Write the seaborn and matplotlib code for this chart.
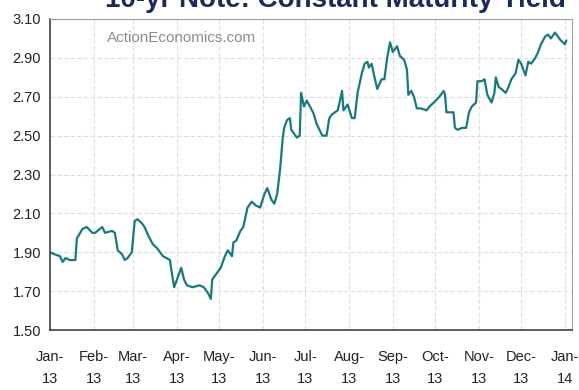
import matplotlib
matplotlib.use("Agg")
import matplotlib.pyplot as plt
import seaborn as sns
import pandas as pd

# 10-year Treasury constant maturity yield, 2013 (percent)
dates = [
    "2013-01-01", "2013-01-04", "2013-01-08", "2013-01-10", "2013-01-12", "2013-01-15",
    "2013-01-19", "2013-01-20", "2013-01-24", "2013-01-27", "2013-01-31", "2013-02-02",
    "2013-02-07", "2013-02-09", "2013-02-14", "2013-02-16", "2013-02-18", "2013-02-21",
    "2013-02-23", "2013-02-25", "2013-02-28", "2013-03-02", "2013-03-04", "2013-03-07",
    "2013-03-09", "2013-03-12", "2013-03-15", "2013-03-18", "2013-03-22", "2013-03-27",
    "2013-03-28", "2013-03-30", "2013-04-01", "2013-04-04", "2013-04-06", "2013-04-08",
    "2013-04-12", "2013-04-17", "2013-04-20", "2013-04-23", "2013-04-25", "2013-04-26",
    "2013-04-30", "2013-05-02", "2013-05-05", "2013-05-07", "2013-05-10", "2013-05-11",
    "2013-05-13", "2013-05-16", "2013-05-18", "2013-05-21", "2013-05-24", "2013-05-27",
    "2013-05-30", "2013-06-02", "2013-06-04", "2013-06-07", "2013-06-09", "2013-06-11",
    "2013-06-13", "2013-06-15", "2013-06-16", "2013-06-18", "2013-06-20", "2013-06-21",
    "2013-06-23", "2013-06-25", "2013-06-27", "2013-06-28", "2013-06-30", "2013-07-02",
    "2013-07-05", "2013-07-07", "2013-07-09", "2013-07-13", "2013-07-16", "2013-07-18",
    "2013-07-20", "2013-07-24", "2013-07-27", "2013-07-28", "2013-07-31", "2013-08-03",
    "2013-08-05", "2013-08-07", "2013-08-10", "2013-08-12", "2013-08-14", "2013-08-15",
    "2013-08-17", "2013-08-19", "2013-08-21", "2013-08-24", "2013-08-26", "2013-08-28",
    "2013-08-30", "2013-09-01", "2013-09-04", "2013-09-06", "2013-09-09", "2013-09-11",
    "2013-09-12", "2013-09-14", "2013-09-16", "2013-09-18", "2013-09-21", "2013-09-25",
    "2013-09-27", "2013-09-30", "2013-10-04", "2013-10-07", "2013-10-08", "2013-10-09",
    "2013-10-12", "2013-10-14", "2013-10-15", "2013-10-17", "2013-10-20", "2013-10-23",
    "2013-10-25", "2013-10-27", "2013-10-30", "2013-10-31", "2013-11-03", "2013-11-05",
    "2013-11-07", "2013-11-10", "2013-11-12", "2013-11-13", "2013-11-15", "2013-11-17",
    "2013-11-20", "2013-11-22", "2013-11-24", "2013-11-27", "2013-11-29", "2013-12-01",
    "2013-12-04", "2013-12-06", "2013-12-08", "2013-12-11", "2013-12-13", "2013-12-15",
    "2013-12-18", "2013-12-20", "2013-12-22", "2013-12-25", "2013-12-27", "2013-12-29",
    "2014-01-01", "2014-01-02",
]
yields = [
    1.90, 1.89, 1.88, 1.85, 1.87, 1.86,
    1.86, 1.97, 2.02, 2.03, 2.00, 2.00,
    2.03, 2.00, 2.01, 2.00, 1.91, 1.89,
    1.86, 1.87, 1.90, 2.06, 2.07, 2.05,
    2.03, 1.98, 1.94, 1.92, 1.88, 1.86,
    1.81, 1.72, 1.76, 1.82, 1.76, 1.73,
    1.72, 1.73, 1.72, 1.69, 1.66, 1.76,
    1.80, 1.82, 1.88, 1.91, 1.88, 1.95,
    1.96, 2.01, 2.03, 2.13, 2.16, 2.14,
    2.13, 2.20, 2.23, 2.17, 2.15, 2.20,
    2.32, 2.49, 2.54, 2.58, 2.59, 2.53,
    2.51, 2.49, 2.50, 2.72, 2.65, 2.68,
    2.64, 2.61, 2.56, 2.50, 2.50, 2.59,
    2.61, 2.63, 2.73, 2.63, 2.66, 2.59,
    2.59, 2.72, 2.82, 2.87, 2.88, 2.85,
    2.87, 2.80, 2.74, 2.79, 2.79, 2.90,
    2.98, 2.93, 2.96, 2.91, 2.89, 2.84,
    2.71, 2.73, 2.70, 2.64, 2.64, 2.63,
    2.65, 2.67, 2.70, 2.73, 2.71, 2.62,
    2.62, 2.62, 2.54, 2.53, 2.54, 2.54,
    2.62, 2.65, 2.67, 2.78, 2.78, 2.79,
    2.71, 2.67, 2.72, 2.80, 2.75, 2.74,
    2.72, 2.75, 2.79, 2.82, 2.89, 2.87,
    2.81, 2.88, 2.87, 2.90, 2.93, 2.97,
    3.01, 3.02, 3.00, 3.03, 3.01, 2.99,
    2.97, 2.99,
]
y_ticks = [1.50, 1.70, 1.90, 2.10, 2.30, 2.50, 2.70, 2.90, 3.10]
month_ticks = pd.date_range("2013-01-01", "2014-01-01", freq="MS")

title = "10-yr Note: Constant Maturity Yield"
source = "ActionEconomics.com"

df = pd.DataFrame({"date": pd.to_datetime(dates), "yield": yields})

sns.set_style("white")
plt.rcParams["font.family"] = ["Liberation Sans Narrow", "Liberation Sans", "DejaVu Sans"]

fig = plt.figure(figsize=(5.79, 3.90), dpi=100)
ax = fig.add_axes([50 / 579, 60 / 390, 522 / 579, 311 / 390])

sns.lineplot(data=df, x="date", y="yield", ax=ax, color="#177a80", linewidth=1.6)

ax.set_ylim(1.50, 3.10)
ax.set_xlim(pd.Timestamp("2013-01-01"), pd.Timestamp("2014-01-06"))
ax.set_yticks(y_ticks)
ax.set_yticklabels([f"{v:.2f}" for v in y_ticks])
ax.set_xticks(month_ticks)
ax.set_xticklabels([d.strftime("%b-\n%y") for d in month_ticks], linespacing=1.75)

ax.grid(True, color="#dedede", linestyle=(0, (4, 2)), linewidth=0.8)
ax.set_xlabel("")
ax.set_ylabel("")

for side in ("left", "bottom"):
    ax.spines[side].set_color("#333333")
    ax.spines[side].set_linewidth(1.1)
ax.spines["top"].set_color("#a0a0a0")
ax.spines["top"].set_linewidth(0.8)
ax.spines["right"].set_color("#a0a0a0")
ax.spines["right"].set_linestyle((0, (2, 1)))
ax.spines["right"].set_linewidth(0.8)

ax.tick_params(axis="y", direction="inout", length=5, width=1.0, color="#333333",
               labelsize=10.5, pad=4, labelcolor="#222222")
ax.tick_params(axis="x", direction="inout", length=5, width=1.0, color="#333333",
               labelsize=10.5, pad=12, labelcolor="#222222")

ax.text(0.109, 0.94, source, transform=ax.transAxes, fontsize=11,
        color="#8c8c8c", va="center", ha="left", family=["Liberation Sans", "DejaVu Sans"])

# Headline sits against the top edge of the figure
fig.text(335 / 579, 1 - 7 / 390, title, ha="center", va="baseline",
         fontsize=20, fontweight="bold", color="#1b2a5c",
         family=["Liberation Sans", "DejaVu Sans"])

fig.savefig("out.png", dpi=100)
